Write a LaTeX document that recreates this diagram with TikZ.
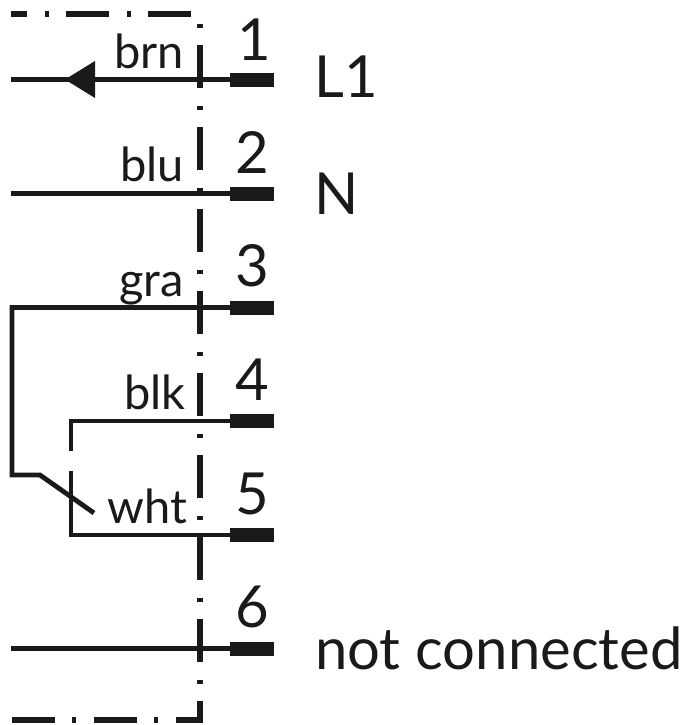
\documentclass[tikz,border=0pt]{standalone}
\usepackage{fontspec}
\setmainfont{Lato}
\begin{document}
\begin{tikzpicture}[x=1pt,y=-1pt,
  frameline/.style={line width=6pt,color=ink,dash pattern=on 43pt off 18pt on 4pt off 17pt,dash phase=27pt},
  wire/.style={line width=4.8pt,color=ink,line join=miter},
  pin/.style={fill=ink,draw=none,minimum width=44pt,minimum height=14pt,inner sep=0pt,outer sep=0pt,rectangle},
  lab/.style={anchor=base east,inner sep=0pt,font=\fontsize{47}{47}\selectfont,text=ink},
  num/.style={anchor=base,inner sep=0pt,font=\fontsize{58}{58}\selectfont,text=ink},
  sig/.style={anchor=base west,inner sep=0pt,font=\fontsize{58}{58}\selectfont,text=ink}]
\definecolor{ink}{HTML}{1A1A18}
\useasboundingbox (0,0) rectangle (684,725);
\fill[white] (0,0) rectangle (684,725);
\draw[frameline] (11,14.5) -- (199.5,14.5) -- (199.5,720) -- (11,720);
\node[pin] (p1) at (252,79.5) {};
\node[pin] (p2) at (252,193.5) {};
\node[pin] (p3) at (252,307.5) {};
\node[pin] (p4) at (252,421) {};
\node[pin] (p5) at (252,535) {};
\node[pin] (p6) at (252,648.5) {};
\coordinate (e1) at (11,79.5);
\coordinate (e2) at (11,193.5);
\coordinate (e6) at (11,648.5);
\coordinate (c3a) at (12,307.5);
\coordinate (c3b) at (12,475);
\coordinate (c3c) at (40,475);
\coordinate (c3d) at (94,513);
\coordinate (c4a) at (71,421);
\coordinate (c4b) at (71,451);
\coordinate (c5a) at (71,471);
\coordinate (c5b) at (71,535);
\draw[wire] (p1.west) -- (e1);
\draw[wire] (p2.west) -- (e2);
\draw[wire] (p3.west) -- (c3a) -- (c3b) -- (c3c) -- (c3d);
\draw[wire] (p4.west) -- (c4a) -- (c4b);
\draw[wire] (c5a) -- (c5b) -- (p5.west);
\draw[wire] (p6.west) -- (e6);
\coordinate (t1) at (65,79.5);
\coordinate (t2) at (95,61);
\coordinate (t3) at (95,98);
\fill[ink] (t1) -- (t2) -- (t3) -- cycle;
\node[lab] (brn) at (184,68) {brn};
\node[lab] (blu) at (184,181) {blu};
\node[lab] (gra) at (184,296) {gra};
\node[lab] (blk) at (186,409) {blk};
\node[lab] (wht) at (187,523) {wht};
\node[num] (n1) at (254,60) {1};
\node[num] (n2) at (252,173) {2};
\node[num] (n3) at (252,286) {3};
\node[num] (n4) at (252,400) {4};
\node[num] (n5) at (252,514) {5};
\node[num] (n6) at (252,627) {6};
\node[sig] (l1) at (314,97) {L1};
\node[sig] (ln) at (314,214) {N};
\node[sig] (nc) at (315,669) {not connected};
\end{tikzpicture}
\end{document}
